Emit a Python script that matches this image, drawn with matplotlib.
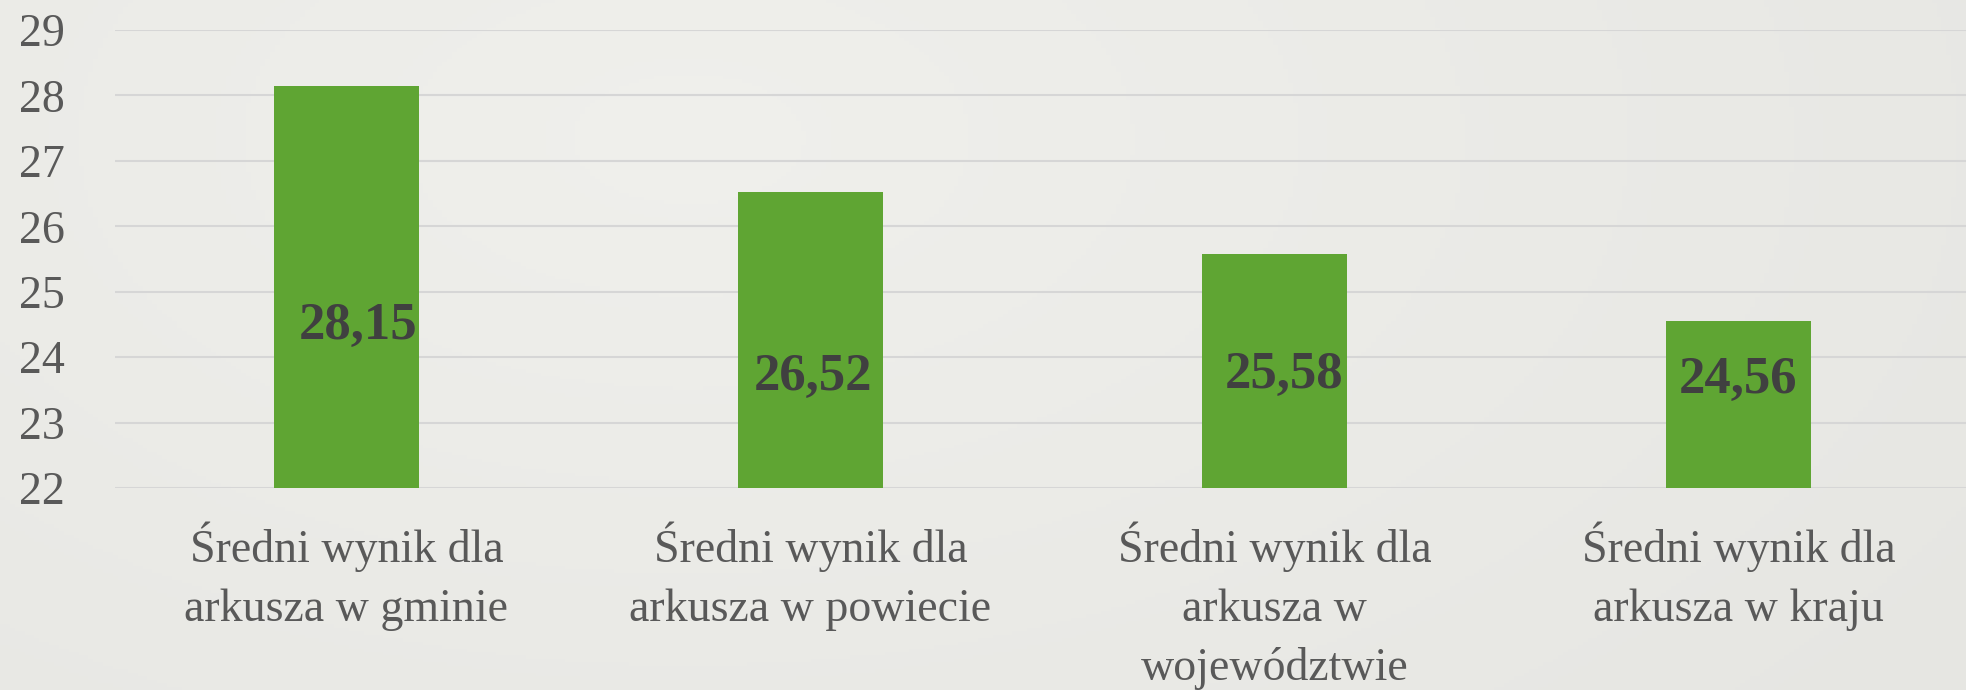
import numpy as np
import matplotlib.pyplot as plt

categories = [
    "Średni wynik dla\narkusza w gminie",
    "Średni wynik dla\narkusza w powiecie",
    "Średni wynik dla\narkusza w\nwojewództwie",
    "Średni wynik dla\narkusza w kraju",
]
values = [28.15, 26.52, 25.58, 24.56]
value_labels = ["28,15", "26,52", "25,58", "24,56"]
yticks = [22, 23, 24, 25, 26, 27, 28, 29]

# where the data labels sit (placed by hand in the original)
label_y = [24.47, 23.69, 23.72, 23.65]
label_dx = [0.024, 0.006, 0.02, 0.0]

serif = ["Liberation Serif", "DejaVu Serif"]

fig = plt.figure(figsize=(19.66, 6.9), dpi=100)

# soft grey background with a lighter spot near the top left
bg = fig.add_axes([0, 0, 1, 1], zorder=-10)
yy, xx = np.mgrid[0:1:200j, 0:1:400j]
r = np.sqrt(((xx - 0.35) * 1.6) ** 2 + ((yy - 0.2) * 1.0) ** 2)
shade = np.clip(1 - r / 1.2, 0, 1)
c0 = np.array([0.905, 0.905, 0.89])
c1 = np.array([0.94, 0.94, 0.925])
img = c0 + (c1 - c0) * shade[..., None]
bg.imshow(img, aspect="auto", extent=[0, 1, 0, 1], origin="upper")
bg.axis("off")

ax = fig.add_axes([114.5 / 1966, 1 - 488 / 690, 1856 / 1966, 458 / 690])
ax.patch.set_alpha(0)

x = np.arange(len(categories))
ax.bar(x, np.array(values) - 22, bottom=22, width=0.3125, color="#5fa533", zorder=3)

for i, lab in enumerate(value_labels):
    ax.text(x[i] + label_dx[i], label_y[i], lab, ha="center", va="center",
            fontsize=38, fontweight="bold", color="#404040",
            family=serif, zorder=4)

ax.set_xlim(-0.5, 3.5)
ax.set_ylim(22, 29)
ax.set_yticks(yticks)
ax.set_yticklabels([str(t) for t in yticks], family=serif, fontsize=33, color="#595959")
ax.set_xticks(x)
ax.set_xticklabels(categories, family=serif, fontsize=33, color="#595959",
                   linespacing=1.5)
ax.tick_params(axis="y", length=0, pad=36)
ax.tick_params(axis="x", length=0, pad=24)
ax.grid(axis="y", color="#d6d6d6", linewidth=1.5, zorder=0)
for s in ax.spines.values():
    s.set_visible(False)

fig.savefig("out.png", dpi=100)
